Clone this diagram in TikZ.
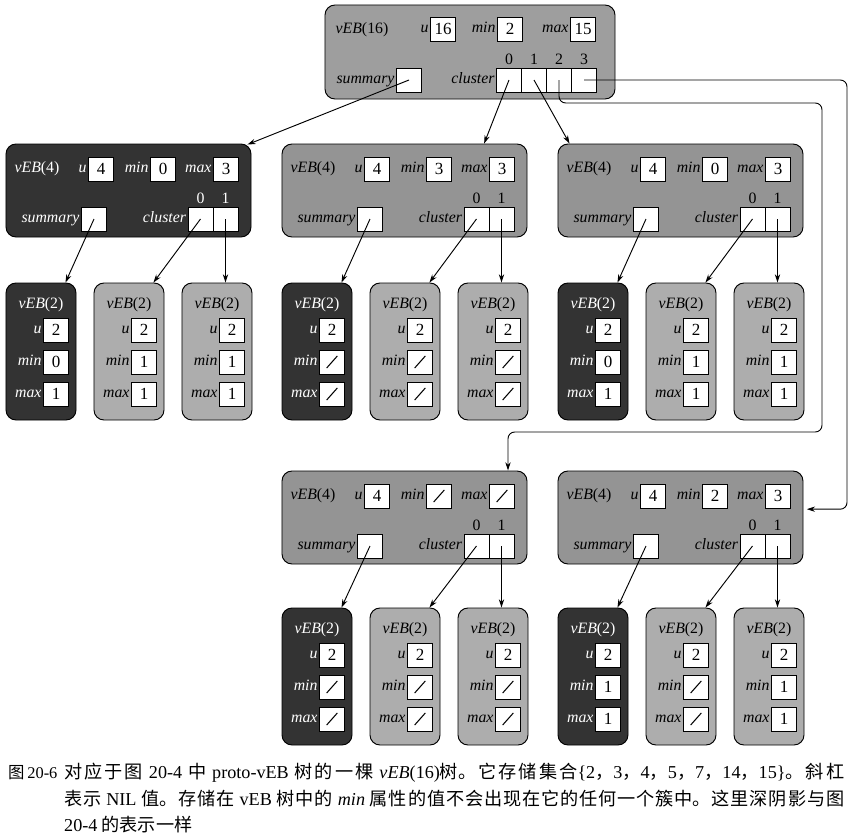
\documentclass[tikz,border=0pt]{standalone}
\usepackage{fontspec}
\setmainfont{Liberation Serif}
\newfontfamily\cjk{Noto Sans CJK SC}
\usetikzlibrary{arrows.meta,positioning}
\XeTeXlinebreaklocale "zh"
\XeTeXlinebreakskip=0pt plus 2pt minus 0.5pt
\definecolor{vebdark}{gray}{0.2}
\definecolor{vebmid}{gray}{0.58}
\definecolor{vebroot}{gray}{0.62}
\definecolor{veblight}{gray}{0.68}
\newcommand{\lat}[1]{{\rmfamily #1}}
\newcommand{\nilmark}{\tikz\draw[line width=0.9pt] (0,0) -- (0.32cm,0.36cm);}

% one vEB(4) block: name, x, y (top left), fill, text colour, min, max
\newcommand{\vebfour}[7]{
  \node[vebbox,fill=#4,minimum width=7.35cm,minimum height=2.79cm] (#1) at (#2+122.5,#3+46.5) {};
  \node[fld,text=#5] (#1-t) at (#2+31,#3+25) {vEB\textup{(4)}};
  \node[valbox] (#1-u) at (#2+95,#3+25) {4};
  \node[valbox] (#1-min) at (#2+157,#3+25) {#6};
  \node[valbox] (#1-max) at (#2+220,#3+25) {#7};
  \node[valbox] (#1-sum) at (#2+88,#3+75) {};
  \node[valbox] (#1-c0) at (#2+194.5,#3+75) {};
  \node[valbox,right=0pt of #1-c0] (#1-c1) {};
  \node[fld,text=#5,left=1pt of #1-u] (#1-lu) {u};
  \node[fld,text=#5,left=1pt of #1-min] (#1-lmin) {min};
  \node[fld,text=#5,left=1pt of #1-max] (#1-lmax) {max};
  \node[fld,text=#5,left=1pt of #1-sum] (#1-lsum) {summary};
  \node[fld,text=#5,left=1pt of #1-c0] (#1-lcl) {cluster};
  \node[idx,text=#5,above=3pt of #1-c0] (#1-i0) {0};
  \node[idx,text=#5,above=3pt of #1-c1] (#1-i1) {1};
}

% one vEB(2) block: name, x, y (top left), fill, text colour, min, max
\newcommand{\vebtwo}[7]{
  \node[vebbox,fill=#4,minimum width=2.1cm,minimum height=4.11cm] (#1) at (#2+35,#3+68.5) {};
  \node[fld,text=#5] (#1-t) at (#2+35,#3+22) {vEB\textup{(2)}};
  \node[valbox] (#1-u) at (#2+50,#3+47) {2};
  \node[valbox] (#1-min) at (#2+50,#3+79) {#6};
  \node[valbox] (#1-max) at (#2+50,#3+111) {#7};
  \node[fld,text=#5,left=1pt of #1-u] (#1-lu) {u};
  \node[fld,text=#5,left=1pt of #1-min] (#1-lmin) {min};
  \node[fld,text=#5,left=1pt of #1-max] (#1-lmax) {max};
}

\begin{document}
\begin{tikzpicture}[x=0.03cm,y=-0.03cm,>={Stealth[length=7pt,width=4.5pt]},
  vebbox/.style={draw,rounded corners=0.3cm,line width=0.8pt},
  valbox/.style={draw,fill=white,line width=0.6pt,outer sep=0pt,inner sep=0pt,
    minimum width=0.75cm,minimum height=0.72cm,font=\fontsize{14.5}{15}\selectfont},
  fld/.style={inner sep=0.5pt,font=\fontsize{13.5}{14}\selectfont\itshape,
    text height=1.6ex,text depth=0.3ex},
  idx/.style={inner sep=0pt,font=\fontsize{13.5}{14}\selectfont},
  ptr/.style={->,line width=0.8pt},
  capfont/.style={inner sep=0pt,font=\cjk\fontsize{15.5}{22.6}\selectfont}]
  \useasboundingbox (0,0) rectangle (855,837);

  % root
  \node[vebbox,fill=vebroot,minimum width=8.7cm,minimum height=2.82cm] (r) at (470,52) {};
  \node[fld] (r-t) at (362,30) {vEB\textup{(16)}};
  \node[valbox] (r-u) at (443,29) {16};
  \node[valbox] (r-min) at (510,29) {2};
  \node[valbox] (r-max) at (583,29) {15};
  \node[valbox] (r-sum) at (409,80) {};
  \node[valbox] (r-c0) at (509,80) {};
  \node[valbox,right=0pt of r-c0] (r-c1) {};
  \node[valbox,right=0pt of r-c1] (r-c2) {};
  \node[valbox,right=0pt of r-c2] (r-c3) {};
  \node[fld,left=1pt of r-u] (r-lu) {u};
  \node[fld,left=1pt of r-min] (r-lmin) {min};
  \node[fld,left=1pt of r-max] (r-lmax) {max};
  \node[fld,left=1pt of r-sum] (r-lsum) {summary};
  \node[fld,left=1pt of r-c0] (r-lcl) {cluster};
  \foreach \i in {0,...,3}
    \node[idx,above=3pt of r-c\i] (r-i\i) {\i};

  % second level
  \vebfour{sm}{6}{144}{vebdark}{white}{0}{3}
  \vebfour{cl0}{282}{144}{vebmid}{black}{3}{3}
  \vebfour{cl1}{558}{144}{vebmid}{black}{0}{3}
  \vebfour{cl2}{282}{471}{vebmid}{black}{\nilmark}{\nilmark}
  \vebfour{cl3}{558}{471}{vebmid}{black}{2}{3}

  % leaves
  \vebtwo{sm-s}{6}{283}{vebdark}{white}{0}{1}
  \vebtwo{sm-0}{94}{283}{veblight}{black}{1}{1}
  \vebtwo{sm-1}{182}{283}{veblight}{black}{1}{1}
  \vebtwo{cl0-s}{282}{283}{vebdark}{white}{\nilmark}{\nilmark}
  \vebtwo{cl0-0}{370}{283}{veblight}{black}{\nilmark}{\nilmark}
  \vebtwo{cl0-1}{458}{283}{veblight}{black}{\nilmark}{\nilmark}
  \vebtwo{cl1-s}{558}{283}{vebdark}{white}{0}{1}
  \vebtwo{cl1-0}{646}{283}{veblight}{black}{1}{1}
  \vebtwo{cl1-1}{734}{283}{veblight}{black}{1}{1}
  \vebtwo{cl2-s}{282}{608}{vebdark}{white}{\nilmark}{\nilmark}
  \vebtwo{cl2-0}{370}{608}{veblight}{black}{\nilmark}{\nilmark}
  \vebtwo{cl2-1}{458}{608}{veblight}{black}{\nilmark}{\nilmark}
  \vebtwo{cl3-s}{558}{608}{vebdark}{white}{1}{1}
  \vebtwo{cl3-0}{646}{608}{veblight}{black}{\nilmark}{\nilmark}
  \vebtwo{cl3-1}{734}{608}{veblight}{black}{1}{1}

  % pointers out of the root
  \coordinate (bendA) at (822,103);
  \coordinate (bendB) at (508,432);
  \coordinate (bendC) at (847,0);
  \coordinate (cl3in) at ([xshift=0.1cm,yshift=0.25cm]cl3.east);
  \draw[ptr] (r-sum.center) -- ([xshift=-0.12cm,yshift=-0.03cm]sm.north east);
  \draw[ptr] (r-c0.center) -- ([xshift=-1.3cm]cl0.north east);
  \draw[ptr] (r-c1.center) -- ([xshift=0.36cm]cl1.north west);
  \draw[ptr,rounded corners=0.2cm] (r-c2.center) |- (bendA) |- (bendB) -- (bendB |- cl2.north);
  \draw[ptr,rounded corners=0.2cm] (r-c3.center) -- (r-c3.center -| bendC) |- (cl3in);

  % pointers down to the leaves
  \foreach \v in {sm,cl0,cl1,cl2,cl3} {
    \draw[ptr] (\v-sum.center) -- ([xshift=-0.33cm]\v-s.north east);
    \draw[ptr] (\v-c0.center) -- ([xshift=-0.33cm]\v-0.north east);
    \draw[ptr] (\v-c1.center) -- (\v-c1.center |- \v-1.north);
  }

  % caption
  \node[capfont,font=\cjk\fontsize{14}{20}\selectfont,anchor=north west] (capnum) at (8,765) {图\,\lat{20-6}};
  \node[capfont,anchor=north west,text width=23.4cm,align=justify] (captext) at (64,763)
    {对应于图 \lat{20-4} 中 \lat{proto-vEB} 树的一棵 \lat{\textit{vEB}(16)}树。它存储集合\lat{\{2}，\lat{3}，\lat{4}，\lat{5}，\lat{7}，\lat{14}，\lat{15\}}。斜杠\linebreak
     表示 \lat{NIL} 值。存储在 \lat{vEB} 树中的 \lat{\textit{min}} 属性的值不会出现在它的任何一个簇中。这里深阴影与图\linebreak
     \lat{20-4} 的表示一样};
\end{tikzpicture}
\end{document}
